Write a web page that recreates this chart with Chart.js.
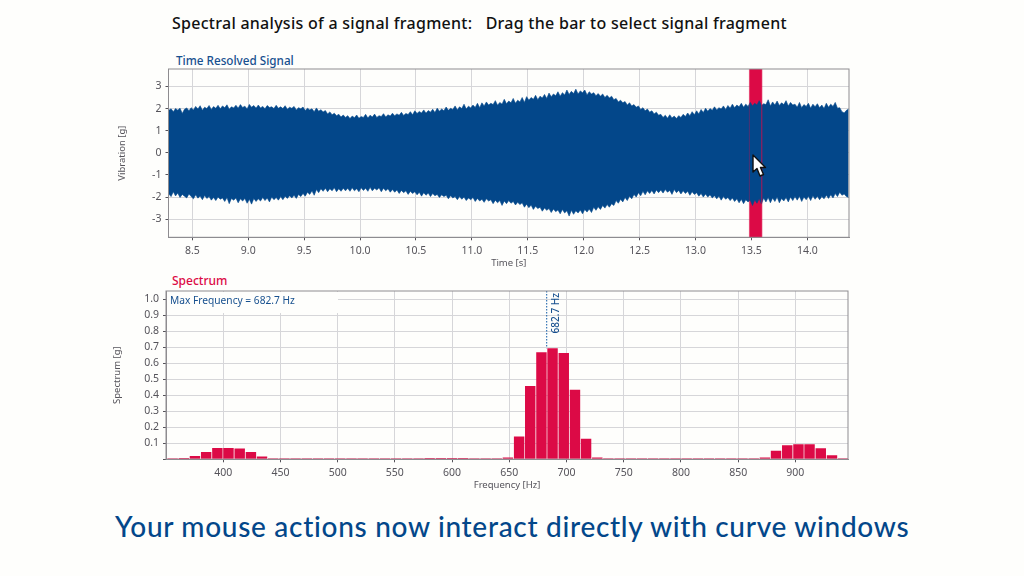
<!DOCTYPE html>
<html>
<head>
<meta charset="utf-8">
<title>Spectral analysis</title>
<script src="https://cdn.jsdelivr.net/npm/chart.js@4"></script>
<style>
    html, body { margin: 0; padding: 0; background: #fefefc; }
    body { width: 1024px; height: 576px; position: relative; overflow: hidden; font-family: "Noto Sans", sans-serif; }
    canvas { position: absolute; left: 100px; }
    #signal { top: 50px; }
    #spectrum { top: 275px; }
    .label { position: absolute; white-space: pre; }
    #mainTitle { left: 172px; top: 12px; font-size: 16px; font-weight: 500; letter-spacing: 0.27px; color: #111; }
    #signalTitle { left: 176px; top: 52px; font-size: 11.7px; font-weight: 500; color: #17508f; }
    #spectrumTitle { left: 172px; top: 272px; font-size: 12px; font-weight: 500; color: #dc0a46; }
    #caption { left: 115px; top: 509px; font-family: Lato, sans-serif; font-size: 28px; font-weight: 500; letter-spacing: 0.7px; color: #03478a; }
    #cursor { position: absolute; left: 752px; top: 154px; }
</style>
</head>
<body>
<div class="label" id="mainTitle">Spectral analysis of a signal fragment:   Drag the bar to select signal fragment</div>
<div class="label" id="signalTitle">Time Resolved Signal</div>
<div class="label" id="spectrumTitle">Spectrum</div>
<canvas id="signal" width="760" height="225"></canvas>
<canvas id="spectrum" width="760" height="220"></canvas>
<svg id="cursor" width="16" height="25" viewBox="0 0 16 25">
    <polygon points="1,1 1,18 5,14.5 8,22 11.5,20.5 8.5,13.5 13.5,13.5" fill="#fff" stroke="#111" stroke-width="1.4" stroke-linejoin="round"/>
</svg>
<div class="label" id="caption">Your mouse actions now interact directly with curve windows</div>

<script>
// signal envelope
const times = [
    8.29, 8.31, 8.33, 8.35, 8.37, 8.39, 8.41, 8.43, 8.45, 8.47,
    8.49, 8.51, 8.53, 8.55, 8.57, 8.59, 8.61, 8.63, 8.65, 8.67,
    8.69, 8.71, 8.73, 8.75, 8.77, 8.79, 8.81, 8.83, 8.85, 8.87,
    8.89, 8.91, 8.93, 8.95, 8.97, 8.99, 9.01, 9.03, 9.05, 9.07,
    9.09, 9.11, 9.13, 9.15, 9.17, 9.19, 9.21, 9.23, 9.25, 9.27,
    9.29, 9.31, 9.33, 9.35, 9.37, 9.39, 9.41, 9.43, 9.45, 9.47,
    9.49, 9.51, 9.53, 9.55, 9.57, 9.59, 9.61, 9.63, 9.65, 9.67,
    9.69, 9.71, 9.73, 9.75, 9.77, 9.79, 9.81, 9.83, 9.85, 9.87,
    9.89, 9.91, 9.93, 9.95, 9.97, 9.99, 10.01, 10.03, 10.05, 10.07,
    10.09, 10.11, 10.13, 10.15, 10.17, 10.19, 10.21, 10.23, 10.25, 10.27,
    10.29, 10.31, 10.33, 10.35, 10.37, 10.39, 10.41, 10.43, 10.45, 10.47,
    10.49, 10.51, 10.53, 10.55, 10.57, 10.59, 10.61, 10.63, 10.65, 10.67,
    10.69, 10.71, 10.73, 10.75, 10.77, 10.79, 10.81, 10.83, 10.85, 10.87,
    10.89, 10.91, 10.93, 10.95, 10.97, 10.99, 11.01, 11.03, 11.05, 11.07,
    11.09, 11.11, 11.13, 11.15, 11.17, 11.19, 11.21, 11.23, 11.25, 11.27,
    11.29, 11.31, 11.33, 11.35, 11.37, 11.39, 11.41, 11.43, 11.45, 11.47,
    11.49, 11.51, 11.53, 11.55, 11.57, 11.59, 11.61, 11.63, 11.65, 11.67,
    11.69, 11.71, 11.73, 11.75, 11.77, 11.79, 11.81, 11.83, 11.85, 11.87,
    11.89, 11.91, 11.93, 11.95, 11.97, 11.99, 12.01, 12.03, 12.05, 12.07,
    12.09, 12.11, 12.13, 12.15, 12.17, 12.19, 12.21, 12.23, 12.25, 12.27,
    12.29, 12.31, 12.33, 12.35, 12.37, 12.39, 12.41, 12.43, 12.45, 12.47,
    12.49, 12.51, 12.53, 12.55, 12.57, 12.59, 12.61, 12.63, 12.65, 12.67,
    12.69, 12.71, 12.73, 12.75, 12.77, 12.79, 12.81, 12.83, 12.85, 12.87,
    12.89, 12.91, 12.93, 12.95, 12.97, 12.99, 13.01, 13.03, 13.05, 13.07,
    13.09, 13.11, 13.13, 13.15, 13.17, 13.19, 13.21, 13.23, 13.25, 13.27,
    13.29, 13.31, 13.33, 13.35, 13.37, 13.39, 13.41, 13.43, 13.45, 13.47,
    13.49, 13.51, 13.53, 13.55, 13.57, 13.59, 13.61, 13.63, 13.65, 13.67,
    13.69, 13.71, 13.73, 13.75, 13.77, 13.79, 13.81, 13.83, 13.85, 13.87,
    13.89, 13.91, 13.93, 13.95, 13.97, 13.99, 14.01, 14.03, 14.05, 14.07,
    14.09, 14.11, 14.13, 14.15, 14.17, 14.19, 14.21, 14.23, 14.25, 14.27,
    14.29, 14.31, 14.33, 14.35, 14.37
];
const upper = [
    1.92, 1.99, 1.86, 2.00, 1.93, 2.02, 1.78, 1.97, 2.03, 1.90,
    2.04, 1.94, 2.10, 1.98, 2.13, 1.92, 2.06, 2.00, 2.14, 1.96,
    2.09, 2.01, 2.15, 1.99, 2.12, 2.04, 2.17, 1.97, 2.08, 2.03,
    2.15, 2.02, 2.18, 2.05, 2.11, 1.98, 2.19, 2.06, 2.14, 2.02,
    2.16, 2.03, 2.10, 1.99, 2.14, 2.05, 2.08, 2.00, 2.15, 2.01,
    2.08, 2.00, 2.13, 1.97, 2.06, 2.01, 2.10, 1.94, 2.04, 1.99,
    2.07, 1.91, 2.02, 1.94, 1.99, 1.86, 2.03, 1.88, 1.95, 1.85,
    1.91, 1.76, 1.85, 1.72, 1.79, 1.68, 1.74, 1.62, 1.71, 1.60,
    1.68, 1.55, 1.66, 1.59, 1.71, 1.56, 1.64, 1.60, 1.74, 1.57,
    1.70, 1.62, 1.75, 1.60, 1.68, 1.64, 1.77, 1.62, 1.72, 1.66,
    1.79, 1.68, 1.76, 1.70, 1.83, 1.69, 1.78, 1.73, 1.86, 1.72,
    1.90, 1.78, 1.87, 1.80, 1.94, 1.79, 1.91, 1.84, 1.97, 1.82,
    2.02, 1.88, 1.98, 1.90, 2.07, 1.92, 2.01, 1.96, 2.12, 1.94,
    2.08, 2.00, 2.20, 1.98, 2.11, 2.03, 2.16, 2.05, 2.24, 2.04,
    2.26, 2.12, 2.30, 2.16, 2.24, 2.18, 2.36, 2.15, 2.28, 2.20,
    2.42, 2.22, 2.34, 2.26, 2.46, 2.24, 2.38, 2.30, 2.50, 2.28,
    2.54, 2.38, 2.50, 2.42, 2.60, 2.40, 2.56, 2.48, 2.64, 2.46,
    2.70, 2.54, 2.66, 2.58, 2.76, 2.56, 2.72, 2.62, 2.84, 2.64,
    2.78, 2.68, 2.88, 2.66, 2.80, 2.72, 2.84, 2.62, 2.76, 2.66,
    2.72, 2.58, 2.68, 2.56, 2.66, 2.50, 2.60, 2.48, 2.56, 2.40,
    2.46, 2.30, 2.38, 2.26, 2.32, 2.16, 2.26, 2.12, 2.18, 2.06,
    2.12, 1.96, 2.04, 1.90, 1.98, 1.84, 1.90, 1.76, 1.84, 1.70,
    1.74, 1.60, 1.70, 1.56, 1.72, 1.58, 1.66, 1.55, 1.68, 1.60,
    1.74, 1.64, 1.80, 1.68, 1.86, 1.72, 1.90, 1.76, 1.96, 1.82,
    2.02, 1.88, 2.00, 1.92, 2.08, 1.94, 2.04, 1.98, 2.12, 1.96,
    2.14, 2.02, 2.20, 2.04, 2.16, 2.08, 2.24, 2.06, 2.20, 2.10,
    2.28, 2.12, 2.24, 2.16, 2.36, 2.14, 2.22, 2.18, 2.40, 2.12,
    2.30, 2.16, 2.34, 2.14, 2.26, 2.18, 2.36, 2.12, 2.28, 2.16,
    2.20, 2.06, 2.28, 2.04, 2.18, 2.10, 2.24, 2.02, 2.20, 2.08,
    2.22, 2.04, 2.16, 2.00, 2.24, 2.06, 2.20, 2.10, 2.28, 2.02,
    2.04, 1.86, 1.80, 1.92, 1.98
];
const lower = [
    -1.86, -1.98, -1.76, -1.95, -1.82, -2.02, -1.88, -1.96, -2.04, -1.86,
    -1.98, -2.08, -1.90, -2.05, -1.95, -2.12, -1.93, -2.06, -1.98, -2.14,
    -2.02, -2.16, -2.00, -2.10, -2.04, -2.20, -2.02, -2.30, -2.06, -2.14,
    -2.04, -2.26, -2.08, -2.18, -2.06, -2.28, -2.10, -2.32, -2.06, -2.20,
    -2.08, -2.18, -2.02, -2.16, -2.04, -2.22, -2.00, -2.12, -2.02, -2.14,
    -1.98, -2.12, -1.96, -2.06, -1.94, -2.04, -1.92, -2.06, -1.88, -1.98,
    -1.84, -1.96, -1.78, -1.88, -1.72, -1.92, -1.66, -1.80, -1.62, -1.74,
    -1.60, -1.76, -1.62, -1.72, -1.58, -1.76, -1.62, -1.74, -1.60, -1.72,
    -1.60, -1.74, -1.58, -1.72, -1.62, -1.76, -1.58, -1.70, -1.60, -1.74,
    -1.56, -1.72, -1.60, -1.68, -1.58, -1.76, -1.60, -1.72, -1.62, -1.78,
    -1.66, -1.78, -1.68, -1.84, -1.70, -1.80, -1.72, -1.88, -1.74, -1.84,
    -1.76, -1.90, -1.78, -1.96, -1.80, -1.92, -1.82, -1.98, -1.84, -1.94,
    -1.88, -2.02, -1.90, -1.98, -1.92, -2.08, -1.94, -2.04, -1.98, -2.12,
    -1.98, -2.10, -2.00, -2.16, -2.04, -2.12, -2.02, -2.20, -2.06, -2.18,
    -2.10, -2.24, -2.08, -2.18, -2.12, -2.30, -2.14, -2.26, -2.16, -2.38,
    -2.18, -2.30, -2.16, -2.28, -2.20, -2.36, -2.24, -2.34, -2.26, -2.46,
    -2.32, -2.48, -2.36, -2.56, -2.42, -2.52, -2.46, -2.64, -2.50, -2.60,
    -2.52, -2.70, -2.54, -2.66, -2.58, -2.76, -2.56, -2.72, -2.62, -2.86,
    -2.60, -2.78, -2.62, -2.72, -2.58, -2.76, -2.56, -2.68, -2.54, -2.70,
    -2.46, -2.60, -2.44, -2.56, -2.38, -2.50, -2.34, -2.46, -2.30, -2.38,
    -2.16, -2.28, -2.10, -2.22, -2.02, -2.16, -1.96, -2.08, -1.88, -2.00,
    -1.80, -1.94, -1.74, -1.90, -1.72, -1.84, -1.70, -1.86, -1.68, -1.80,
    -1.68, -1.82, -1.66, -1.78, -1.70, -1.88, -1.66, -1.80, -1.70, -1.86,
    -1.72, -1.84, -1.74, -1.92, -1.76, -1.88, -1.80, -1.96, -1.84, -2.00,
    -1.86, -2.00, -1.90, -2.04, -1.94, -2.08, -1.96, -2.14, -1.98, -2.10,
    -2.02, -2.16, -2.04, -2.20, -2.08, -2.26, -2.10, -2.30, -2.12, -2.22,
    -2.14, -2.38, -2.12, -2.28, -2.06, -2.32, -2.04, -2.22, -2.02, -2.26,
    -2.04, -2.20, -2.00, -2.26, -2.06, -2.18, -2.02, -2.22, -2.00, -2.16,
    -1.98, -2.14, -1.96, -2.20, -2.00, -2.12, -1.96, -2.16, -1.94, -2.10,
    -1.96, -2.12, -1.98, -2.08, -1.92, -2.06, -1.90, -2.04, -1.84, -1.98,
    -1.78, -1.92, -1.86, -1.98, -2.02
];

// spectrum bins
const frequencies = [
    355.8, 365.6, 375.3, 385.1, 394.9, 404.6, 414.4, 424.2, 433.9, 443.7,
    453.5, 463.2, 473.0, 482.8, 492.5, 502.3, 512.1, 521.8, 531.6, 541.4,
    551.1, 560.9, 570.7, 580.4, 590.2, 600.0, 609.7, 619.5, 629.3, 639.0,
    648.8, 658.6, 668.3, 678.1, 687.8, 697.6, 707.4, 717.1, 726.9, 736.6,
    746.4, 756.2, 765.9, 775.7, 785.5, 795.2, 805.0, 814.8, 824.5, 834.3,
    844.1, 853.8, 863.6, 873.4, 883.1, 892.9, 902.7, 912.4, 922.2, 932.0,
    941.7
];
const amplitudes = [
    0.003, 0.008, 0.021, 0.046, 0.071, 0.071, 0.067, 0.046, 0.017, 0.004,
    0.002, 0.002, 0.002, 0.002, 0.002, 0.002, 0.002, 0.002, 0.002, 0.002,
    0.002, 0.002, 0.002, 0.008, 0.008, 0.008, 0.008, 0.004, 0.004, 0.006,
    0.012, 0.142, 0.458, 0.669, 0.694, 0.665, 0.435, 0.129, 0.012, 0.006,
    0.002, 0.002, 0.002, 0.002, 0.002, 0.002, 0.002, 0.002, 0.002, 0.002,
    0.002, 0.002, 0.006, 0.012, 0.054, 0.088, 0.094, 0.094, 0.069, 0.025,
    0.006
];

const timeTicks = [8.5, 9, 9.5, 10, 10.5, 11, 11.5, 12, 12.5, 13, 13.5, 14];
const vibrationTicks = [-3, -2, -1, 0, 1, 2, 3];
const frequencyTicks = [400, 450, 500, 550, 600, 650, 700, 750, 800, 850, 900];
const spectrumTicks = [0, 0.1, 0.2, 0.3, 0.4, 0.5, 0.6, 0.7, 0.8, 0.9, 1];

const selectionStart = 13.482;
const selectionEnd = 13.593;
const maxFrequency = 682.7;
const maxAmplitude = 0.694;

const BLUE = '#03478a';
const RED = '#dc0a46';
const GRID = '#d6d6d9';
const FRAME = '#8e8c90';
const TEXT = '#55535a';
const FONT = '"Noto Sans", sans-serif';

Chart.defaults.font.family = FONT;
Chart.defaults.font.size = 10;
Chart.defaults.color = TEXT;

function fixTicks(list) {
    return function (scale) {
        scale.ticks = list.map(v => ({ value: v }));
    };
}

function axis(min, max, ticks, title, format, isY, size) {
    return {
        type: 'linear',
        min: min,
        max: max,
        offset: false,
        afterBuildTicks: fixTicks(ticks),
        afterFit: function (scale) {
            if (isY) scale.width = size;
            else scale.height = size;
        },
        title: { display: true, text: title, color: TEXT, padding: 0, font: { size: 9.5 } },
        border: { color: FRAME, width: 1 },
        grid: { color: GRID, tickColor: TEXT, tickLength: 3, lineWidth: 1, offset: false },
        ticks: { autoSkip: false, maxRotation: 0, padding: 4, color: TEXT, font: { size: 10.5 }, callback: format }
    };
}

const frame = {
    id: 'frame',
    afterDraw(chart) {
        let a = chart.chartArea, c = chart.ctx;
        c.save();
        c.strokeStyle = FRAME;
        c.lineWidth = 1;
        c.strokeRect(a.left, a.top, a.right - a.left, a.bottom - a.top);
        c.restore();
    }
};

// red selection bar, behind the signal with its edges on top
const selection = {
    id: 'selection',
    beforeDatasetsDraw(chart) {
        let a = chart.chartArea, x = chart.scales.x, c = chart.ctx;
        let l = x.getPixelForValue(selectionStart), r = x.getPixelForValue(selectionEnd);
        c.save();
        c.fillStyle = RED;
        c.fillRect(l, a.top, r - l, a.bottom - a.top);
        c.restore();
    },
    afterDatasetsDraw(chart) {
        let a = chart.chartArea, x = chart.scales.x, c = chart.ctx;
        let l = x.getPixelForValue(selectionStart), r = x.getPixelForValue(selectionEnd);
        c.save();
        c.strokeStyle = 'rgba(220,10,70,0.35)';
        c.beginPath();
        c.moveTo(l, a.top);
        c.lineTo(l, a.bottom);
        c.stroke();
        c.strokeStyle = 'rgba(220,10,70,0.8)';
        c.beginPath();
        c.moveTo(r, a.top);
        c.lineTo(r, a.bottom);
        c.stroke();
        c.restore();
    }
};

const maxMarker = {
    id: 'maxMarker',
    afterDatasetsDraw(chart) {
        let a = chart.chartArea, x = chart.scales.x, y = chart.scales.y, c = chart.ctx;
        let px = x.getPixelForValue(maxFrequency);
        c.save();
        c.strokeStyle = '#0d5aa6';
        c.setLineDash([1.5, 1.5]);
        c.beginPath();
        c.moveTo(px, a.top);
        c.lineTo(px, y.getPixelForValue(maxAmplitude));
        c.stroke();
        c.setLineDash([]);

        // box that hides the grid behind the note
        c.fillStyle = '#fefefc';
        c.fillRect(a.left + 1, a.top + 1, 171, 21);
        c.fillStyle = '#17508f';
        c.font = '10.2px ' + FONT;
        c.textBaseline = 'middle';
        c.fillText('Max Frequency = ' + maxFrequency + ' Hz', a.left + 4, a.top + 10);

        c.translate(px + 9, a.top + 2);
        c.rotate(-Math.PI / 2);
        c.textAlign = 'right';
        c.font = '500 10px ' + FONT;
        c.fillText(maxFrequency + ' Hz', 0, 0);
        c.restore();
    }
};

new Chart(document.getElementById('signal').getContext('2d'), {
    type: 'line',
    data: {
        datasets: [
            {
                data: times.map((t, i) => ({ x: t, y: upper[i] })),
                borderColor: 'rgba(3,71,138,0.6)', backgroundColor: BLUE, borderWidth: 1,
                pointRadius: 0, tension: 0, fill: '+1'
            },
            {
                data: times.map((t, i) => ({ x: t, y: lower[i] })),
                borderColor: 'rgba(3,71,138,0.6)', borderWidth: 1,
                pointRadius: 0, tension: 0, fill: false
            }
        ]
    },
    options: {
        responsive: false,
        animation: false,
        events: [],
        layout: { padding: { left: 17, right: 11, top: 19, bottom: 5.7 } },
        plugins: { legend: { display: false }, tooltip: { enabled: false } },
        scales: {
            x: axis(8.287, 14.373, timeTicks, 'Time [s]', v => v.toFixed(1), false, 32),
            y: axis(-3.82, 3.79, vibrationTicks, 'Vibration [g]', v => String(v), true, 51.5)
        }
    },
    plugins: [selection, frame]
});

new Chart(document.getElementById('spectrum').getContext('2d'), {
    type: 'bar',
    data: {
        datasets: [{
            data: frequencies.map((f, i) => ({ x: f, y: amplitudes[i] })),
            backgroundColor: RED,
            barPercentage: 0.94,
            categoryPercentage: 1,
            minBarLength: 1
        }]
    },
    options: {
        responsive: false,
        animation: false,
        events: [],
        layout: { padding: { left: 12, right: 12, top: 16, bottom: 3.7 } },
        plugins: { legend: { display: false }, tooltip: { enabled: false } },
        scales: {
            x: axis(350, 946, frequencyTicks, 'Frequency [Hz]', v => String(v), false, 32),
            y: axis(0, 1.052, spectrumTicks, 'Spectrum [g]', v => (v === 0 ? '' : v.toFixed(1)), true, 54)
        }
    },
    plugins: [frame, maxMarker]
});
</script>
</body>
</html>
